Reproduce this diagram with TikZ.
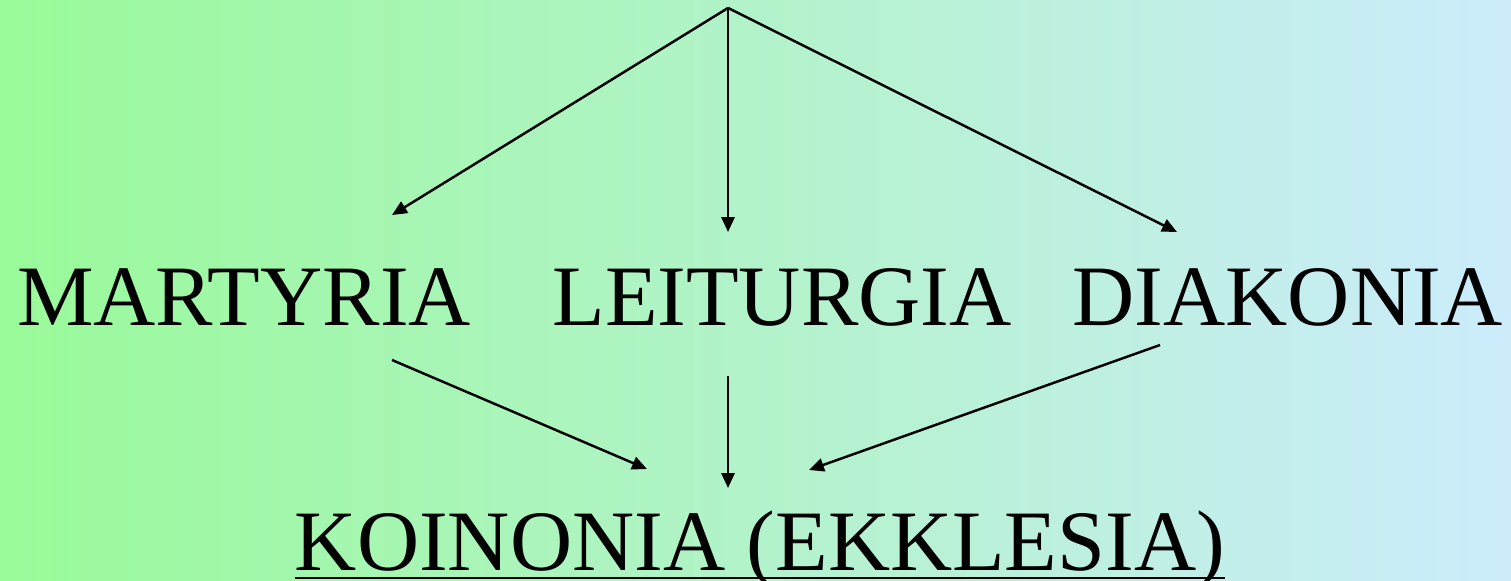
\documentclass[tikz,border=0pt]{standalone}
\usepackage{fontspec}
\setmainfont{Liberation Serif}
\usetikzlibrary{arrows.meta, calc}
\definecolor{bgleft}{RGB}{153,250,153}
\definecolor{bgright}{RGB}{204,236,252}

\begin{document}
\begin{tikzpicture}[
  x=0.02cm, y=-0.02cm,
  word/.style={inner sep=0pt, anchor=base, font=\fontsize{49}{55}\selectfont},
  arr/.style={-{Triangle[length=8.5pt, width=7.5pt]}, line width=1.4pt}
]
  % background
  \shade[left color=bgleft, right color=bgright] (0,0) rectangle (1511,581);
  \useasboundingbox (0,0) rectangle (1511,581);

  \coordinate (apex) at (728,8);
  \node[word] (martyria) at (244,325) {MARTYRIA};
  \node[word] (leiturgia) at (782,325) {LEITURGIA};
  \node[word] (diakonia) at (1288,325) {DIAKONIA};
  \node[word] (koinonia) at (760,570) {KOINONIA (EKKLESIA)};

  % arrow ends
  \coordinate (mIn) at (392,215);
  \coordinate (lIn) at (728,232);
  \coordinate (dIn) at (1177,232);
  \coordinate (mOut) at (392,360);
  \coordinate (lOut) at (728,376);
  \coordinate (dOut) at (1160,345);
  \coordinate (kLeft) at (647,469);
  \coordinate (kMid) at (728,488);
  \coordinate (kRight) at (809,470);

  \draw[arr] (apex) -- (mIn);
  \draw[arr] (apex) -- (lIn);
  \draw[arr] (apex) -- (dIn);
  \draw[arr] (mOut) -- (kLeft);
  \draw[arr] (lOut) -- (kMid);
  \draw[arr] (dOut) -- (kRight);

  % underline
  \draw[line width=1.7pt] ($(koinonia.base west)+(0,8)$) -- ($(koinonia.base east)+(0,8)$);
\end{tikzpicture}
\end{document}
